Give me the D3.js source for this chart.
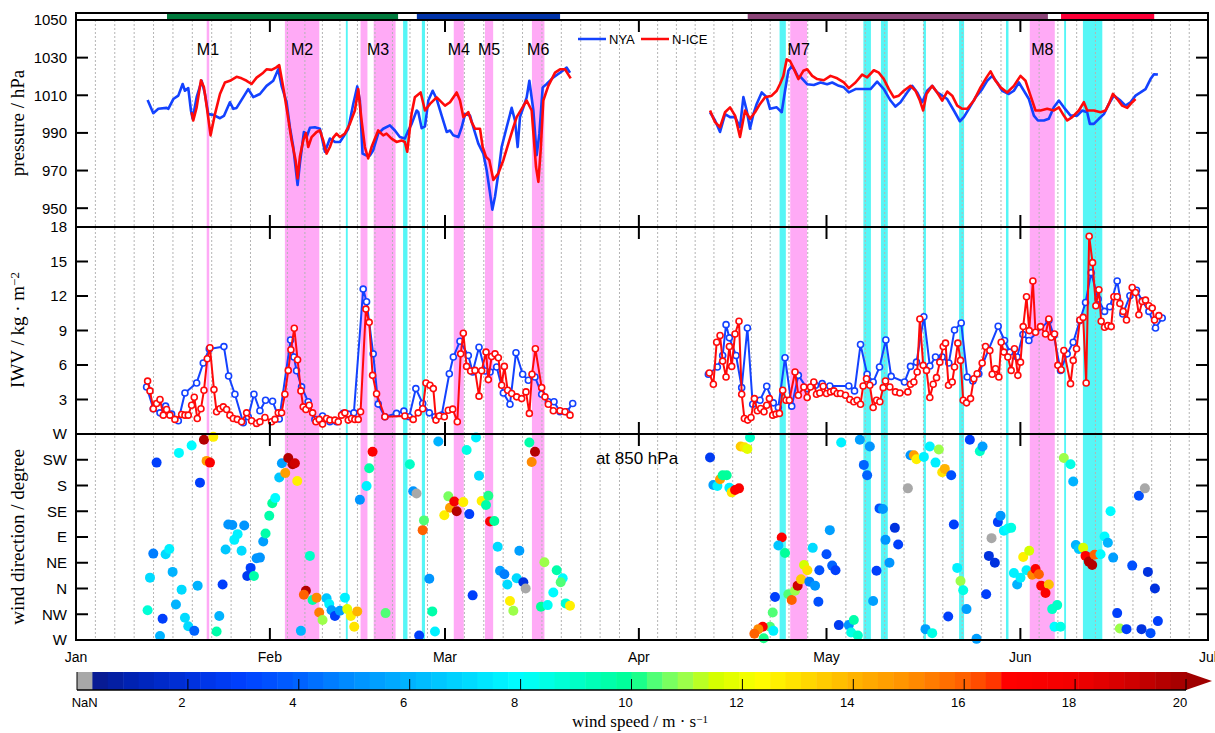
<!DOCTYPE html>
<html>
<head>
<meta charset="utf-8">
<title>NYA / N-ICE pressure, IWV and wind</title>
<style>
  body { margin: 0; background: #fff; }
  svg { display: block; }
  text { font-family: "Liberation Sans", Arial, sans-serif; }
  .serif { font-family: "Liberation Serif", "DejaVu Serif", serif; }
</style>
</head>
<body>
<svg id="chart" width="1215" height="733"></svg>
<script src="https://d3js.org/d3.v7.min.js"></script>
<script>
// ---- data (days since 1 Jan 2015) ----
const floeSpans = [[14.55, 51.5], [54.5, 77.4], [107.4, 155.4], [157.5, 172.4]]
const floeColors = ['#007a3d', '#0033a8', '#8b4477', '#ff0038']

const cycloneNames = ['M1', 'M2', 'M3', 'M3', 'M4', 'M5', 'M6', 'M7', 'M8']
const cycloneSpans = [[20.9, 21.3], [33.4, 38.9], [45.5, 46.6], [47.6, 51.1], [60.4, 62.0],
  [65.4, 66.7], [72.9, 74.9], [114.2, 116.9], [152.5, 156.5]]
const cyanSpans = [[43.15, 43.45], [52.3, 53.0], [55.3, 55.8], [112.5, 113.5], [125.9, 127.1],
  [128.7, 129.8], [135.5, 135.9], [141.2, 142.0], [148.7, 149.1], [158.0, 158.3], [161.0, 164.1]]

const pressureTicks = [950, 970, 990, 1010, 1030, 1050]
const iwvTicks = [3, 6, 9, 12, 15, 18]
const dirTicks = ['W', 'NW', 'N', 'NE', 'E', 'SE', 'S', 'SW', 'W']
const speedTicks = [2, 4, 6, 8, 10, 12, 14, 16, 18, 20]

const pressureNYA = [[11.45,1007.5],[12.36,1000.5],[13.16,1002.8],[14.49,1003.3],[14.76,1002.8],[15.56,1008],[16.36,1009.8],[17.05,1016],[17.42,1012.4],[17.95,1013.8],[18.38,1001.9],[18.65,997.5],[19.29,1009],[20.09,1017.7],[20.62,1010.7],[21.15,1000],[21.95,999.6],[23.02,997.8],[23.65,999],[24.61,1006.3],[25.15,1002.8],[25.68,1003.3],[27.54,1013.3],[28.34,1009],[29.41,1010.7],[30.47,1015],[31.54,1017.7],[32.34,1023.8],[32.87,1015],[33.67,1006.3],[34.2,993],[34.74,982.5],[35.43,962.3],[35.8,973.8],[36.44,990.5],[36.87,987.8],[37.4,992.7],[38.2,993],[39.0,992.2],[39.8,980],[40.6,987],[41.4,985.2],[42.2,985.2],[42.73,987.8],[43.53,992.2],[44.33,1005.4],[44.97,1014.7],[45.39,1007.2],[45.82,979],[46.46,978],[46.99,978],[47.52,980.8],[48.32,989.6],[49.12,992.2],[50.19,994],[50.99,991.3],[51.78,987.8],[52.58,987],[53.14,991.3],[53.67,994.8],[54.47,1001.9],[54.74,1001],[55.27,992.5],[55.8,993.5],[56.33,1007.2],[57.03,1012.4],[57.67,1008],[58.47,999.2],[59.27,990.5],[59.8,991.3],[60.33,988.7],[61.13,987.8],[61.67,993],[62.2,1000],[63.0,999.2],[63.53,993],[64.33,984.3],[65.13,979],[65.66,970.2],[66.2,958],[66.57,949.2],[67.0,956.2],[67.53,968.5],[68.06,982.5],[68.86,993],[69.66,1003.3],[70.19,996.6],[70.62,982.5],[70.99,998.4],[71.53,1003.6],[72.06,1008.9],[72.49,1017.7],[73.13,1001.9],[73.66,978.2],[74.09,989.6],[74.62,1014.2],[75.26,1016],[76.32,1019.5],[77.39,1022],[78.46,1024.7],[78.99,1022],
  [101.38,1001],[102.18,996.6],[102.98,990.5],[103.78,1000],[104.58,998.4],[105.38,998.4],[106.17,993],[106.71,1009],[107.24,1001.9],[107.77,992.2],[108.31,1000],[108.84,1005.4],[109.64,1011.5],[110.44,1009],[110.97,1002.8],[112.04,1003.6],[112.84,1001],[113.37,1012.4],[113.9,1023],[114.44,1025.6],[114.97,1023],[115.5,1019.5],[115.84,1019.8],[116.91,1015.9],[117.97,1015.5],[119.04,1016.8],[120.11,1015.9],[120.91,1016.8],[121.97,1015],[122.77,1014.2],[123.57,1011.5],[124.64,1013.3],[125.97,1013.3],[127.04,1013.3],[128.1,1017.2],[129.17,1013.3],[130.23,1007.2],[131.03,1004],[131.83,1006.3],[132.9,1011.5],[133.7,1015],[134.5,1011.5],[135.3,1006.3],[136.1,1012.4],[136.9,1015],[137.7,1011.5],[138.5,1009.8],[139.3,1008],[140.36,1001.9],[141.32,996.2],[141.96,998.4],[142.76,1002.8],[143.83,1008.9],[144.89,1013.3],[145.69,1017.7],[146.49,1020.3],[147.29,1016.8],[148.09,1012.4],[149.16,1010.7],[149.96,1012.4],[150.76,1016.8],[151.56,1012.4],[152.36,1008],[153.16,999.2],[153.8,996.6],[154.76,996.6],[155.55,997.5],[156.35,1003.6],[157.15,1007.2],[157.95,1003.6],[159.02,999.2],[160.09,999.2],[160.88,1001.9],[161.68,1001],[162.11,994.8],[162.75,994.8],[163.55,997.5],[164.35,1000],[165.15,1005.4],[165.95,1009.8],[167.01,1007.2],[167.81,1004.5],[168.61,1006.3],[169.41,1009.8],[170.21,1011.5],[171.01,1013.3],[171.81,1018.6],[172.35,1021.2],[172.99,1021]]

const pressureNICE = [[18.49,1001],[18.75,996.6],[19.29,1003.6],[19.98,1018],[20.46,1014.2],[20.99,1001.9],[21.52,988.7],[22.22,1000],[23.02,1010.7],[23.81,1016.8],[24.61,1017.7],[25.68,1019.8],[26.48,1019],[27.28,1017.7],[28.08,1016],[28.88,1019.4],[29.94,1022],[30.47,1023.8],[31.27,1023.5],[31.97,1024.7],[32.5,1026],[33.14,1014.2],[33.78,1001],[34.47,986],[35.11,975.5],[35.43,965.8],[35.8,977.3],[36.33,986],[36.76,990],[37.13,982.5],[37.67,987.8],[38.47,990.5],[39.0,991.3],[39.53,986],[40.06,979],[40.6,982.5],[41.13,987.5],[41.66,989.6],[42.2,987.8],[42.99,989.6],[43.79,994.8],[44.59,1001.9],[45.13,1013.3],[45.66,996.6],[46.19,982.5],[46.72,976.4],[47.26,982.5],[48.32,991.3],[49.12,988.7],[49.65,989.6],[50.45,987],[51.25,985.2],[52.05,986],[52.58,985.2],[52.96,980],[53.65,1000],[54.18,1008.9],[55.11,1011.5],[55.8,1001.9],[56.6,1005.4],[57.67,1008.9],[59.0,1004.5],[59.8,1006.3],[60.87,1011.5],[61.4,1007.2],[61.93,998.4],[62.73,1001],[63.26,995.7],[63.8,992.2],[64.6,992.2],[65.02,982.5],[65.56,977.3],[66.09,975.5],[66.73,965],[67.53,968.5],[68.33,975.5],[69.13,984.3],[69.93,993],[70.46,998.4],[71.26,1002.8],[72.06,1007.2],[72.86,1001.9],[73.55,972],[73.93,964],[74.3,980.8],[74.72,1007.2],[75.52,1015],[76.59,1022],[77.39,1023.8],[78.19,1023.8],[78.72,1021],[79.1,1019],
  [101.38,1001.9],[102.18,995.7],[102.98,993],[103.78,1001],[104.58,1003.6],[105.38,999.2],[106.17,987.8],[106.97,1001.9],[107.77,997.5],[108.57,1001],[109.37,1005.4],[110.17,1008.9],[111.24,1009.8],[112.04,1012.4],[112.57,1016],[113.1,1020.3],[113.64,1029.1],[114.17,1028.2],[114.7,1024.7],[115.5,1018.6],[116.3,1023],[116.91,1023.8],[117.71,1020.3],[118.51,1018.6],[119.57,1018],[120.64,1020.3],[121.71,1019],[122.77,1016.8],[123.57,1013.8],[124.64,1016.8],[125.7,1021],[126.5,1019.5],[127.57,1023.3],[128.37,1022],[129.17,1018.6],[129.97,1013.3],[130.77,1008.9],[131.57,1009.8],[132.37,1012.4],[133.43,1015],[134.23,1012.4],[134.93,1007.2],[135.46,1001.9],[135.99,1010.7],[136.9,1015],[137.7,1011.5],[138.5,1007.2],[139.3,1012],[140.1,1009.8],[140.9,1004.5],[141.7,1002.8],[142.5,1002.8],[143.56,1007.2],[144.63,1014.2],[145.59,1019.5],[146.23,1022.7],[147.03,1017.7],[147.83,1014.2],[148.89,1011.5],[149.96,1015],[151.02,1020.3],[151.82,1017.7],[152.62,1009.8],[153.42,1001.9],[154.22,1001.9],[155.29,1002.8],[156.35,1001.9],[157.15,1003.6],[157.95,999.2],[158.49,996.6],[159.29,998.4],[160.35,1001.9],[161.15,1006.3],[161.68,1001.9],[162.75,1001.9],[163.82,1001],[164.62,1001.9],[165.15,1005.4],[165.79,1010.7],[166.48,1008],[167.28,1004.5],[168.08,1003.3],[168.88,1006.3],[169.41,1008]]

const iwvNYA = [[11.29,4.09],[12.36,2.2],[13.43,1.84],[14.33,2.42],[15.29,1.73],[16.36,1.15],[17.42,3.57],[19.29,4.44],[20.35,6.17],[21.31,7.4],[23.65,7.6],[24.4,5.04],[25.41,3.46],[26.74,0.98],[27.54,1.5],[28.45,3.46],[29.41,2.02],[30.31,2.94],[31.43,2.85],[32.5,1.3],[34.31,8.18],[34.84,6.7],[35.27,5.5],[36.07,4.1],[37.13,2.8],[38.2,1.27],[39.42,1.56],[40.6,1.07],[41.66,1.07],[42.73,1.79],[43.53,1.73],[44.43,1.84],[45.92,12.6],[46.46,11.5],[47.52,6.97],[48.32,2.6],[49.39,1.5],[51.25,1.79],[52.42,1.99],[53.28,1.5],[54.34,3.95],[55.43,2.65],[56.49,1.84],[57.4,1.5],[58.47,1.64],[59.69,5.24],[60.33,6.69],[61.4,8.07],[62.73,6.83],[63.42,5.39],[64.44,7.55],[65.4,5.48],[66.2,5.39],[67.26,5.82],[68.33,3.57],[69.39,2.59],[70.35,7.06],[71.42,5.19],[72.33,4.67],[73.39,4.96],[74.46,3.46],[75.52,2.8],[76.43,2.8],[77.39,1.93],[78.46,1.93],[79.42,2.65],
  [101.11,5.19],[102.55,5.82],[103.4,6.83],[103.94,9.51],[104.47,8.36],[105.54,6.83],[106.44,4.03],[107.35,9.22],[108.2,2.59],[109.37,2.94],[110.44,4.15],[111.5,2.71],[112.3,2.31],[113.37,6.63],[114.44,2.42],[115.5,5.1],[116.91,3.95],[118.24,4.24],[119.31,4.38],[120.53,4.18],[123.57,4.18],[124.48,3.75],[125.44,7.78],[126.5,5.19],[127.46,4.52],[128.48,5.82],[129.49,8.18],[130.34,5.01],[132.47,4.52],[133.43,5.88],[134.39,6.25],[135.57,10.2],[136.52,5.91],[137.43,6.69],[138.5,6.69],[139.56,6.17],[140.47,9.05],[141.54,9.65],[142.5,4.96],[143.4,4.61],[144.36,5.24],[147.45,9.37],[148.46,8.13],[149.32,7.12],[150.49,6.69],[151.4,8.65],[152.36,8.13],[155.55,9.86],[156.35,8.56],[157.42,5.53],[158.49,6.97],[159.45,7.98],[160.51,9.86],[161.42,11.44],[162.32,14.03],[163.44,11.73],[164.46,10.66],[165.31,11.07],[166.48,13.31],[167.39,10.43],[168.51,12.02],[169.57,12.5],[170.48,11.59],[171.55,10.66],[172.61,9.22],[173.68,10.09]]

const iwvNICE = [[11.45,4.6],[11.83,3.75],[12.36,2.2],[12.89,2.65],[13.43,3.0],[13.96,1.64],[14.49,2.13],[15.02,1.64],[15.82,1.27],[16.89,1.7],[17.42,1.64],[17.95,1.64],[18.49,2.5],[18.91,3.2],[19.39,1.35],[19.98,2.2],[20.46,3.8],[20.99,6.54],[21.42,7.5],[22.06,3.86],[22.48,1.93],[23.02,2.2],[23.55,2.36],[24.08,2.13],[24.61,1.64],[25.15,1.35],[25.79,1.27],[26.48,1.07],[27.28,1.84],[28.08,1.15],[28.88,0.92],[29.41,1.07],[30.21,1.44],[31.27,1.07],[31.81,1.27],[32.34,1.84],[32.87,1.84],[33.4,3.46],[33.94,5.53],[34.36,7.32],[34.9,9.19],[35.43,6.46],[35.96,3.75],[36.33,2.36],[36.76,2.13],[37.29,2.5],[37.83,1.84],[38.36,1.07],[38.89,1.27],[39.42,0.86],[40.06,1.35],[40.6,1.21],[41.4,1.21],[41.93,1.07],[42.46,1.64],[42.99,1.84],[43.53,1.21],[44.06,1.35],[44.59,1.27],[45.13,1.27],[45.5,1.93],[46.35,10.86],[46.88,9.71],[47.42,5.1],[48.06,3.5],[49.39,1.5],[52.58,1.56],[53.92,1.27],[54.71,1.84],[55.43,2.2],[55.96,4.44],[56.6,4.24],[57.13,3.95],[57.56,1.21],[58.09,1.56],[58.89,1.5],[59.53,2.07],[60.23,2.16],[60.97,1.07],[61.51,6.97],[61.93,8.76],[62.46,5.88],[63.1,5.48],[63.8,5.53],[64.44,3.29],[64.86,5.5],[65.56,7.12],[65.93,4.73],[66.46,6.74],[67.0,6.97],[67.53,6.63],[68.06,4.24],[68.49,5.88],[69.02,3.8],[69.66,3.52],[70.46,3.23],[71.26,3.08],[71.95,3.66],[72.49,1.79],[72.91,5.19],[73.45,7.41],[74.46,4.03],[74.99,3.23],[75.52,2.59],[76.32,2.02],[77.39,2.02],[78.19,1.93],[78.99,1.64],
  [101.27,5.3],[101.91,4.32],[102.44,7.98],[102.98,8.56],[103.4,6.34],[103.94,4.96],[104.47,7.61],[104.84,5.88],[105.38,8.7],[106.01,9.8],[106.44,3.46],[106.87,1.35],[107.4,1.21],[107.93,1.44],[108.47,3.08],[108.95,2.02],[109.48,2.22],[110.01,1.93],[110.44,2.5],[110.87,3.08],[111.4,1.64],[111.93,1.73],[112.47,1.79],[113.0,3.8],[113.53,2.94],[114.06,2.94],[114.97,5.39],[115.5,3.37],[116.38,4.09],[116.91,3.17],[117.44,4.09],[117.97,4.52],[118.4,3.46],[118.93,3.57],[119.47,4.15],[120.0,3.52],[120.64,3.66],[121.17,3.75],[121.71,3.52],[122.24,3.52],[123.04,3.37],[123.73,3.0],[124.37,2.8],[124.9,2.94],[125.44,2.59],[125.86,4.18],[126.4,4.81],[126.93,4.24],[127.46,2.31],[128.0,2.94],[128.53,2.8],[129.06,4.03],[129.43,4.61],[130.13,4.09],[131.03,3.66],[131.73,3.57],[133.01,3.66],[133.43,4.32],[133.97,4.52],[134.5,5.39],[134.93,10.0],[135.46,5.97],[135.99,5.53],[136.52,3.17],[137.06,4.32],[137.59,4.9],[138.12,6.25],[138.66,7.61],[139.03,7.9],[139.51,4.24],[140.1,4.52],[140.47,5.82],[141.0,7.9],[141.43,6.4],[141.86,2.94],[142.39,2.71],[143.03,3.08],[143.56,4.81],[144.09,5.24],[144.89,6.17],[145.43,7.61],[146.12,7.26],[146.49,5.19],[147.03,5.68],[147.56,4.96],[147.93,7.98],[148.36,7.12],[149.0,6.69],[149.53,5.53],[150.06,7.41],[150.6,5.1],[151.02,6.25],[151.45,9.34],[151.98,11.93],[152.41,8.99],[153.0,13.31],[153.42,8.85],[154.22,9.34],[155.02,8.7],[155.55,10.0],[155.93,8.41],[156.46,8.7],[156.99,5.97],[157.53,5.59],[157.95,7.26],[159.02,4.38],[159.45,6.4],[159.98,7.41],[160.51,9.91],[161.04,10.14],[161.52,4.44],[162.0,17.2],[162.54,14.9],[163.07,11.15],[163.55,12.54],[163.92,9.8],[164.46,9.28],[164.99,9.42],[165.52,9.34],[165.95,11.93],[166.48,11.93],[166.91,11.35],[167.44,10.66],[167.97,9.91],[168.88,12.74],[169.41,12.31],[169.95,10.37],[170.48,11.53],[171.01,11.64],[171.55,11.15],[172.08,10.95],[172.45,9.91],[173.14,10.29]]

// [day, direction in degrees, speed in m/s (null = NaN)]
const wind850 = [[20.46,260,19.5],[21.95,265,12.5],[18.49,250,7.8],[16.46,237,7.8],[12.89,220,3],[20.88,223,14.5],[21.42,220,17],[19.82,185,3],[12.36,61,4.5],[14.33,60,7],[14.92,69,7.5],[11.83,19,7],[15.45,29,6],[16.89,358,7],[19.45,5,6],[23.44,7,3],[11.45,322,8.8],[13.85,307,2.8],[15.98,332,6],[17.42,309,7],[17.95,294,7],[18.91,286,4],[13.43,277,6],[22.91,312,6],[22.48,285,9.5],[23.92,68,6.5],[24.35,112,5],[24.99,111,5],[25.84,95,7.5],[25.31,85,7.5],[26.48,66,7],[26.9,110,5],[27.92,36,3],[27.38,22,2.5],[28.45,22,9.5],[28.88,53,5],[29.41,54,5],[29.94,82,5.5],[30.31,96,9.5],[30.9,127,9.5],[31.38,149,9.8],[31.86,158,8],[32.5,194,6.5],[32.92,219,5.5],[33.46,202,14.5],[33.94,228,19.5],[34.63,217,19.5],[35.0,219,19],[35.38,188,12.5],[37.4,57,9],[35.96,286,6],[36.76,356,19.5],[36.44,349,16],[37.83,340,9.5],[38.47,344,15],[38.89,318,15.5],[39.42,305,11],[40.06,343,6.5],[40.49,333,7.5],[40.86,322,5.5],[41.4,312,3],[42.2,321,5.5],[43.0,344,7.5],[43.37,324,11.8],[43.95,312,12.5],[44.49,293,13],[44.97,320,14],[49.5,317,10.5],[45.39,155,5],[46.46,179,7.5],[46.88,210,9.5],[47.42,239,17],[53.38,217,9],[53.92,170,5],[54.45,166,null],[54.87,278,3],
  [57.93,257,6],[55.64,119,10.5],[55.43,102,16],[56.49,17,5],[56.97,320,9.5],[57.4,285,7.5],[63.96,264,7.5],[62.46,242,8.5],[64.44,197,7],[59.53,161,10.8],[58.89,128,12.5],[59.8,141,14.5],[60.49,152,17.5],[60.87,135,19.5],[61.93,151,12.5],[62.89,130,3],[64.86,153,12.5],[65.56,146,9.5],[65.93,162,10],[66.2,117,17],[66.89,118,9.8],[63.42,348,3],[67.42,73,7],[67.8,31,5.5],[68.49,25,4.5],[68.97,7,7],[70.46,18,7],[70.89,66,5.5],[71.53,11,2],[71.9,0,null],[69.39,338,12.5],[69.93,321,11],[72.49,255,9.5],[73.39,239,19.5],[72.86,221,15],[74.89,46,11],[76.86,32,9.5],[77.82,18,8],[77.5,11,10.3],[76.32,353,7.8],[74.35,328,9.8],[75.42,331,8.2],[78.3,334,8.8],[78.99,330,12.5],
  [101.38,229,2.5],[106.28,248,13.5],[106.87,247,12.8],[107.35,244,11.8],[107.77,264,9],[101.91,181,5.5],[102.55,179,7.5],[102.98,191,14.5],[103.4,198,9.8],[104.04,198,9.8],[104.47,176,7.5],[104.84,168,12.8],[105.38,172,17],[106.01,175,17],[112.84,89,17],[112.3,75,6.5],[113.37,62,9.8],[111.77,345,3],[111.4,318,10.3],[110.97,293,10.3],[109.8,293,17],[109.1,289,15],[108.47,281,16],[109.96,273,10],[111.5,286,7.5],[113.9,350,10.3],[114.44,340,16],[114.97,356,11],[115.39,5,19],[115.93,16,13.5],[116.41,41,11.5],[116.94,32,12.8],[117.8,71,7],[117.26,12,4.5],[118.17,5,5],[118.86,32,3.5],[118.7,337,3.5],
  [122.35,255,7.5],[125.33,260,5.5],[126.93,248,5],[125.97,216,4],[126.5,198,4],[120.53,102,5.5],[120.0,60,3.5],[120.91,40,4],[121.44,32,3],[121.97,296,2.5],[123.57,296,5],[123.94,283,8.5],[124.37,305,9.5],[125.01,278,9],[128.0,31,3],[127.46,338,5.5],[128.48,140,3.5],[129.01,139,5],[129.43,85,5],[130.07,45,5],[130.93,106,2],[131.46,77,3],[133.01,175,null],[133.43,233,5],[133.97,233,14.5],[134.39,226,12.5],[135.57,230,7.5],[136.52,248,7.5],[137.96,243,11],[137.43,220,7.5],[138.5,203,12.8],[138.92,209,14],[139.94,198,3.5],[135.83,289,5.5],[136.9,282,8.5],[139.46,311,3],[140.36,112,3],[140.9,36,7.5],[141.43,13,11],[141.86,357,8.5],[142.39,324,5.5],[143.99,272,5.5],[142.92,260,3],[144.52,240,9],[144.95,248,5.5],[145.53,350,3],[145.96,57,2],[146.92,45,2],[146.39,88,null],[147.4,116,3],[147.83,127,5],[148.36,101,7.5],[149.0,105,8],[149.53,106,8.5],[149.96,27,7.5],[150.49,7,6],[151.02,19,7.5],[151.45,55,12.5],[152.41,66,11.5],[151.98,32,7.5],[152.89,24,15],[153.42,34,17],[153.96,25,16],[154.33,5,17],[155.55,7,13.8],[155.02,352,17],[156.09,324,9],[156.89,331,9],[156.46,293,7.8],[157.42,293,8.5],[157.95,228,11],[159.02,217,8.5],[159.45,187,6],[159.87,76,6],[160.35,69,6.5],[161.04,71,11.5],[161.42,57,17],[161.95,47,19.5],[162.48,41,19.5],[162.86,59,16],[163.82,60,7.8],[164.46,91,7.8],[164.99,80,6],[165.42,135,7.8],[165.84,54,5.5],[166.48,317,3],[166.91,290,11],[167.97,289,3],[168.88,40,3.5],[169.95,162,3.5],[170.91,175,null],[171.39,29,2],[172.51,0,2],[172.99,303,3],[170.37,289,2],[171.81,282,3.5]]

// colour map of the wind speed bar (m/s -> colour)
const speedStops = [0.3, 1, 2, 3, 4, 5, 6, 7, 8, 9, 10, 10.5, 11, 11.5, 12.3, 13, 14, 15, 16, 16.6, 16.8, 18, 19, 20]
const speedColors = ['#0a1a8e', '#0022b4', '#0031dc', '#0040ff', '#0062ff', '#0090ff', '#00b4ff', '#00d8ff', '#00ffff',
  '#00ffc8', '#00ff94', '#60ff70', '#a0ff48', '#d4ff00', '#ffff00', '#ffe000', '#ffb400', '#ff9000', '#ff6000',
  '#ff3000', '#ff0000', '#f20000', '#d00000', '#a00000']

// ---- layout ----
const svg = d3.select('#chart')
const left = 76, right = 1208
const t0 = Date.UTC(2015, 0, 1)
const toDate = d => new Date(t0 + d * 864e5)

const x = d3.scaleUtc().domain([toDate(0), new Date(Date.UTC(2015, 6, 1))]).range([left, right])
const yP = d3.scaleLinear().domain([940, 1050]).range([227, 20])
const yI = d3.scaleLinear().domain([0, 18]).range([434, 227])
const yW = d3.scaleLinear().domain([270, 630]).range([640, 434])
const dirU = d => d < 270 ? d + 360 : d

const nBins = 72
const cx = d3.scaleLinear().domain([0, 20]).range([77, 1186])
const cmap = d3.scaleLinear().domain(speedStops).range(speedColors).clamp(true)
const binW = 20 / nBins
const speedColor = s => {
  if (s == null) return '#a8a8a8'
  const i = Math.max(1, Math.min(nBins - 1, Math.floor(s / binW)))
  return cmap((i + 0.5) * binW)
}

const panels = [[20, 227], [227, 434], [434, 640]]

// shading
const shade = svg.append('g')
shade.selectAll('rect.m').data(cycloneSpans).join('rect')
  .attr('x', d => x(toDate(d[0]))).attr('width', d => x(toDate(d[1])) - x(toDate(d[0])))
  .attr('y', 20).attr('height', 620).attr('fill', '#ffaaf6')
shade.selectAll('rect.c').data(cyanSpans).join('rect')
  .attr('x', d => x(toDate(d[0]))).attr('width', d => Math.max(1.5, x(toDate(d[1])) - x(toDate(d[0]))))
  .attr('y', 20).attr('height', 620).attr('fill', '#55f6f6')

// dotted minor grid: ten parts in each month
const months = d3.utcMonth.range(toDate(0), new Date(Date.UTC(2015, 6, 1)))
const minor = []
months.forEach(m => {
  const a = x(m), b = x(d3.utcMonth.offset(m, 1))
  for (let k = 1; k < 10; k++) minor.push(a + (b - a) * k / 10)
})
svg.append('g').selectAll('line').data(minor).join('line')
  .attr('x1', d => d).attr('x2', d => d).attr('y1', 20).attr('y2', 640)
  .attr('stroke', '#b4b4b4').attr('stroke-width', 1).attr('stroke-dasharray', '2,2')

// floe bars in the top strip
svg.append('g').selectAll('rect').data(floeSpans).join('rect')
  .attr('x', d => x(toDate(d[0]))).attr('width', d => x(toDate(d[1])) - x(toDate(d[0])))
  .attr('y', 14).attr('height', 6).attr('fill', (d, i) => floeColors[i])

// split a series where there is a long gap
const segments = data => {
  const out = [[]]
  data.forEach((d, i) => {
    if (i > 0 && d[0] - data[i - 1][0] > 10) out.push([])
    out[out.length - 1].push(d)
  })
  return out
}

function drawLine(data, y, color, width) {
  const line = d3.line().x(d => x(toDate(d[0]))).y(d => y(d[1]))
  svg.append('g').selectAll('path').data(segments(data)).join('path')
    .attr('d', line).attr('fill', 'none').attr('stroke', color)
    .attr('stroke-width', width).attr('stroke-linejoin', 'round')
}
const blue = '#1342ff', red = '#ff0a0a'

drawLine(pressureNYA, yP, blue, 2.6)
drawLine(pressureNICE, yP, red, 2.6)

function drawIwv(data, color) {
  drawLine(data, yI, color, 2)
  svg.append('g').selectAll('circle').data(data).join('circle')
    .attr('cx', d => x(toDate(d[0]))).attr('cy', d => yI(d[1])).attr('r', 3)
    .attr('fill', '#fff').attr('stroke', color).attr('stroke-width', 1.6)
}
drawIwv(iwvNYA, blue)
drawIwv(iwvNICE, red)

svg.append('g').selectAll('circle').data(wind850).join('circle')
  .attr('cx', d => x(toDate(d[0]))).attr('cy', d => yW(dirU(d[1]))).attr('r', 5)
  .attr('fill', d => speedColor(d[2]))

// frame
const frame = svg.append('g').attr('stroke', '#000').attr('stroke-width', 2)
frame.append('rect').attr('x', left).attr('y', 13).attr('width', right - left).attr('height', 627).attr('fill', 'none')
;[20, 227, 434].forEach(v => frame.append('line').attr('x1', left).attr('x2', right).attr('y1', v).attr('y2', v))

// month ticks top and bottom of every panel
panels.forEach(([top, bot]) => {
  months.slice(1).forEach(m => {
    frame.append('line').attr('x1', x(m)).attr('x2', x(m)).attr('y1', top).attr('y2', top + 12)
    frame.append('line').attr('x1', x(m)).attr('x2', x(m)).attr('y1', bot).attr('y2', bot - 12)
  })
})

function yTicks(values, pos, labels) {
  values.forEach((v, i) => {
    const y = pos(v)
    frame.append('line').attr('x1', left).attr('x2', left + 12).attr('y1', y).attr('y2', y)
    frame.append('line').attr('x1', right - 12).attr('x2', right).attr('y1', y).attr('y2', y)
    svg.append('text').attr('x', 67).attr('y', y).attr('dy', '0.36em').attr('text-anchor', 'end')
      .attr('font-size', 15).text(labels ? labels[i] : v)
  })
}
yTicks(pressureTicks, yP)
yTicks(iwvTicks, yI)
yTicks(d3.range(270, 631, 45), yW, dirTicks)

// month labels (the last one runs off the right edge, as in the original)
svg.append('g').selectAll('text').data(months.concat([new Date(Date.UTC(2015, 6, 1))])).join('text')
  .attr('x', d => x(d)).attr('y', 657).attr('dy', '0.35em').attr('text-anchor', 'middle')
  .attr('font-size', 14).text(d => d3.utcFormat('%b')(d))

// cyclone labels
const names = Array.from(new Set(cycloneNames))
names.forEach(n => {
  const sp = cycloneSpans.filter((d, i) => cycloneNames[i] === n)
  const mid = (d3.min(sp, d => d[0]) + d3.max(sp, d => d[1])) / 2
  svg.append('text').attr('x', x(toDate(mid))).attr('y', 49).attr('dy', '0.35em')
    .attr('text-anchor', 'middle').attr('font-size', 16).text(n)
})

// legend
const lg = svg.append('g').attr('font-size', 13)
lg.append('line').attr('x1', 578).attr('x2', 606).attr('y1', 39).attr('y2', 39).attr('stroke', blue).attr('stroke-width', 2.5)
lg.append('text').attr('x', 609).attr('y', 39).attr('dy', '0.35em').text('NYA')
lg.append('line').attr('x1', 641).attr('x2', 669).attr('y1', 39).attr('y2', 39).attr('stroke', red).attr('stroke-width', 2.5)
lg.append('text').attr('x', 672).attr('y', 39).attr('dy', '0.35em').text('N-ICE')

svg.append('text').attr('x', 637).attr('y', 458).attr('dy', '0.35em').attr('text-anchor', 'middle')
  .attr('font-size', 17).text('at 850 hPa')

// axis titles
function yTitle(cy, parts) {
  const t = svg.append('text').attr('class', 'serif').attr('font-size', 19)
    .attr('text-anchor', 'middle').attr('transform', `translate(24,${cy}) rotate(-90)`)
  parts.forEach(p => t.append('tspan').attr('baseline-shift', p[1] ? '35%' : null)
    .attr('font-size', p[1] ? 13 : null).text(p[0]))
}
yTitle(123, [['pressure / hPa']])
yTitle(330, [['IWV / kg \u00b7 m'], ['\u22122', true]])
yTitle(537, [['wind direction / degree']])

// colour bar
const cb = svg.append('g')
cb.selectAll('rect').data(d3.range(nBins)).join('rect')
  .attr('x', i => cx(i * binW)).attr('width', cx(binW) - cx(0) + 0.5)
  .attr('y', 672).attr('height', 18)
  .attr('fill', i => i === 0 ? '#a8a8a8' : cmap((i + 0.5) * binW))
cb.append('path')
  .attr('d', `M${cx(20)},672 L${cx(20) + 26},681 L${cx(20)},690 Z`)
  .attr('fill', '#a00000')
cb.append('line').attr('x1', cx(0)).attr('x2', cx(20)).attr('y1', 690).attr('y2', 690)
  .attr('stroke', '#000').attr('stroke-width', 1.5)
cb.append('line').attr('x1', cx(0)).attr('x2', cx(0)).attr('y1', 672).attr('y2', 690)
  .attr('stroke', '#000').attr('stroke-width', 1)
cb.selectAll('line.t').data(speedTicks).join('line').attr('class', 't')
  .attr('x1', d => cx(d)).attr('x2', d => cx(d)).attr('y1', 690).attr('y2', 679)
  .attr('stroke', '#000').attr('stroke-width', 1)
cb.selectAll('text.t').data(speedTicks).join('text').attr('class', 't')
  .attr('x', d => cx(d) - 6).attr('y', 702).attr('dy', '0.35em').attr('text-anchor', 'middle')
  .attr('font-size', 13).text(d => d)
cb.append('text').attr('x', cx(binW / 2)).attr('y', 702).attr('dy', '0.35em').attr('text-anchor', 'middle')
  .attr('font-size', 13).text('NaN')

const ct = svg.append('text').attr('class', 'serif').attr('font-size', 17)
  .attr('x', 640).attr('y', 727).attr('text-anchor', 'middle')
ct.append('tspan').text('wind speed / m \u00b7 s')
ct.append('tspan').attr('baseline-shift', '35%').attr('font-size', 11).text('\u22121')
</script>
</body>
</html>
